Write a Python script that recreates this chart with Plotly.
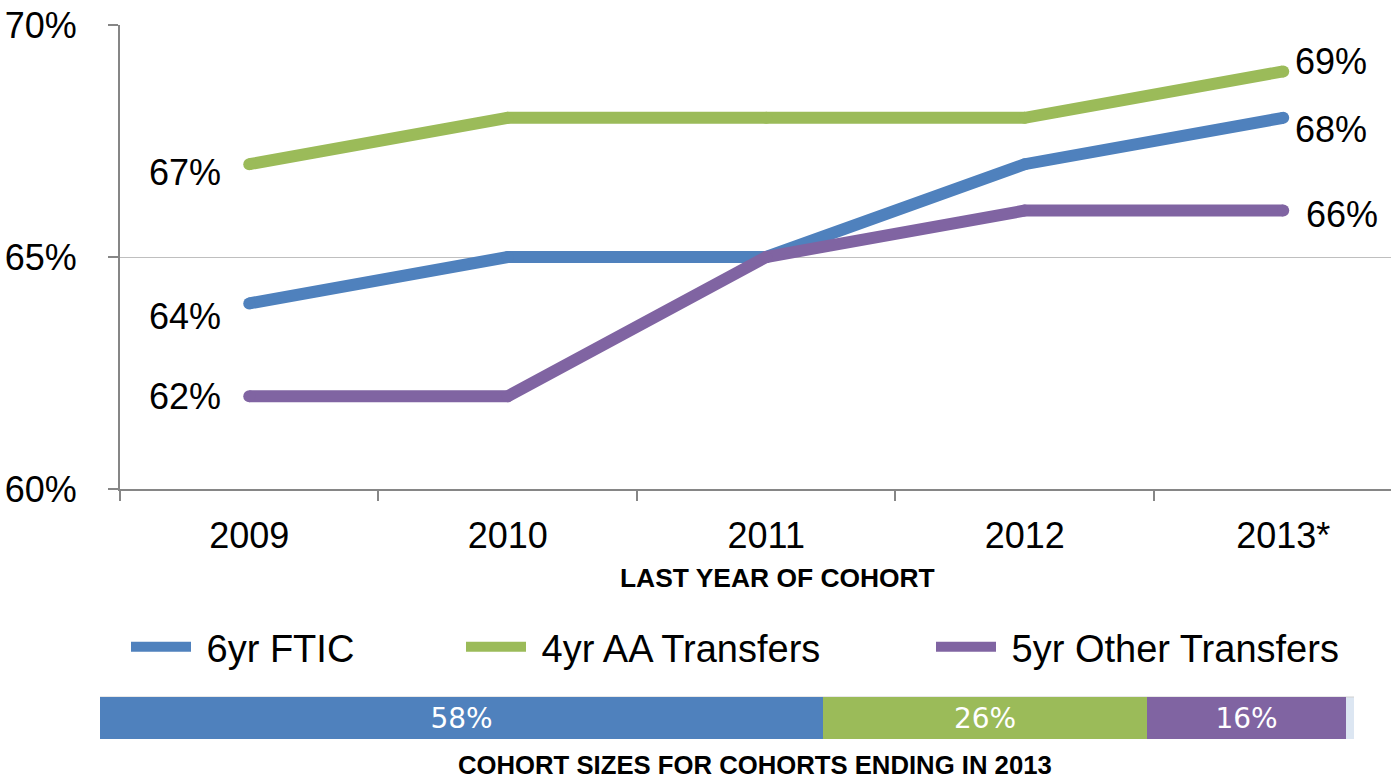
import plotly.graph_objects as go

# ---------------- data ----------------
years = ["2009", "2010", "2011", "2012", "2013*"]
ftic_6yr = [64, 65, 65, 67, 68]
aa_transfers_4yr = [67, 68, 68, 68, 69]
other_transfers_5yr = [62, 62, 65, 66, 66]
series_names = ["6yr FTIC", "4yr AA Transfers", "5yr Other Transfers"]

cohort_labels = ["6yr FTIC", "4yr AA Transfers", "5yr Other Transfers"]
cohort_sizes_2013 = [58, 26, 16]

y_ticks = [60, 65, 70]
y_tick_labels = ["60%", "65%", "70%"]

# ---------------- style ----------------
W, H = 1391, 780
colors = ["#4F81BD", "#9BBB59", "#8064A2"]
FONT = "Liberation Sans, Arial, sans-serif"
BOLD = "Liberation Sans, Arial, sans-serif"
axis_grey = "#868686"

def px_x(p):
    return p / W

def px_y(p):
    return (H - p) / H

fig = go.Figure()

series = [ftic_6yr, aa_transfers_4yr, other_transfers_5yr]
legend_ids = ["legend", "legend2", "legend3"]
for i, (name, vals) in enumerate(zip(series_names, series)):
    fig.add_trace(go.Scatter(
        x=years, y=vals, mode="lines", name="\u00a0" + name,
        line=dict(color=colors[i], width=12),
        legend=legend_ids[i],
        hoverinfo="skip",
    ))
    # round caps / joins
    fig.add_trace(go.Scatter(
        x=years, y=vals, mode="markers", showlegend=False,
        marker=dict(color=colors[i], size=12, line=dict(width=0)),
        hoverinfo="skip",
    ))

# data labels at the first and last points (offsets in pixels)
first_idx, last_idx = 0, len(years) - 1   # category positions on the x axis
first_offsets = {0: (-26, -13), 1: (-26, -8), 2: (-26, 0)}
last_offsets = {0: (10, -12), 1: (10, 10), 2: (21, -4)}
annots = []
for i, vals in enumerate(series):
    dx, dy = first_offsets[i]
    annots.append(dict(x=first_idx, y=vals[first_idx], xref="x", yref="y",
                       text=f"{vals[first_idx]}%", showarrow=False,
                       xanchor="right", yanchor="middle", xshift=dx, yshift=dy,
                       font=dict(family=FONT, size=36, color="black")))
    dx, dy = last_offsets[i]
    annots.append(dict(x=last_idx, y=vals[last_idx], xref="x", yref="y",
                       text=f"{vals[last_idx]}%", showarrow=False,
                       xanchor="left", yanchor="middle", xshift=dx, yshift=dy,
                       font=dict(family=FONT, size=36, color="black")))

# cohort-size stacked bar
for i, (lab, v) in enumerate(zip(cohort_labels, cohort_sizes_2013)):
    fig.add_trace(go.Bar(
        x=[v], y=["2013"], orientation="h", xaxis="x2", yaxis="y2",
        marker=dict(color=colors[i], line=dict(width=0)),
        text=[f"{v}%"], textposition="inside", insidetextanchor="middle",
        textangle=0, showlegend=False, hoverinfo="skip",
        textfont=dict(family="DejaVu Sans, Verdana, sans-serif", size=28, color="white"),
        width=1,
    ))

annots += [
    dict(text="<b>LAST YEAR OF COHORT</b>", x=px_x(777), y=px_y(578),
         xref="paper", yref="paper", showarrow=False, xanchor="center", yanchor="middle",
         font=dict(family=BOLD, size=26.4, color="black")),
    dict(text="<b>COHORT SIZES FOR COHORTS ENDING IN 2013</b>", x=px_x(755), y=px_y(765),
         xref="paper", yref="paper", showarrow=False, xanchor="center", yanchor="middle",
         font=dict(family=BOLD, size=25.7, color="black")),
]

legend_style = dict(orientation="h", xanchor="left", yanchor="middle",
                    itemwidth=60, font=dict(family=FONT, size=38),
                    bgcolor="rgba(0,0,0,0)", borderwidth=0)

fig.update_layout(
    width=W, height=H,
    margin=dict(l=0, r=0, t=0, b=0, pad=0, autoexpand=False),
    paper_bgcolor="white", plot_bgcolor="rgba(0,0,0,0)",
    barmode="stack", bargap=0,
    font=dict(family=FONT, size=36, color="black"),
    xaxis=dict(
        type="category", domain=[px_x(120), 1], range=[-0.5, 4.417],
        showline=True, linecolor=axis_grey, linewidth=2,
        ticks="outside", tickson="boundaries", ticklen=10, tickwidth=2, tickcolor=axis_grey,
        showgrid=False, tickfont=dict(family=FONT, size=36), ticklabelstandoff=14,
        automargin=False, fixedrange=True,
    ),
    yaxis=dict(
        domain=[px_y(489), px_y(25)], range=[60, 70],
        tickvals=y_ticks, ticktext=y_tick_labels,
        showline=True, linecolor=axis_grey, linewidth=2,
        ticks="outside", ticklen=10, tickwidth=2, tickcolor=axis_grey,
        showgrid=True, gridcolor="#BFBFBF", gridwidth=1, zeroline=False,
        tickfont=dict(family=FONT, size=36), ticklabelstandoff=24,
        automargin=False, fixedrange=True,
    ),
    xaxis2=dict(domain=[px_x(100), px_x(1354)], range=[0, 100.65], anchor="y2",
                visible=False, automargin=False, fixedrange=True),
    yaxis2=dict(domain=[px_y(739), px_y(697)], range=[-0.5, 0.5], anchor="x2",
                visible=False, automargin=False, fixedrange=True),
    shapes=[
        dict(type="rect", xref="x2 domain", yref="y2 domain", x0=0, x1=1, y0=0, y1=1,
             fillcolor="#DCE6F2", line=dict(width=0), layer="below"),
        dict(type="line", xref="x2 domain", yref="y2 domain", x0=0, x1=1, y0=1, y1=1,
             line=dict(color="#D0D0D0", width=1), layer="below"),
    ],
    legend=dict(legend_style, x=px_x(126), y=px_y(647)),
    legend2=dict(legend_style, x=px_x(461), y=px_y(647)),
    legend3=dict(legend_style, x=px_x(931), y=px_y(647)),
    annotations=annots,
)

fig.write_html("out.html", config={"displayModeBar": False},
               post_script="document.body.style.margin='0';")
